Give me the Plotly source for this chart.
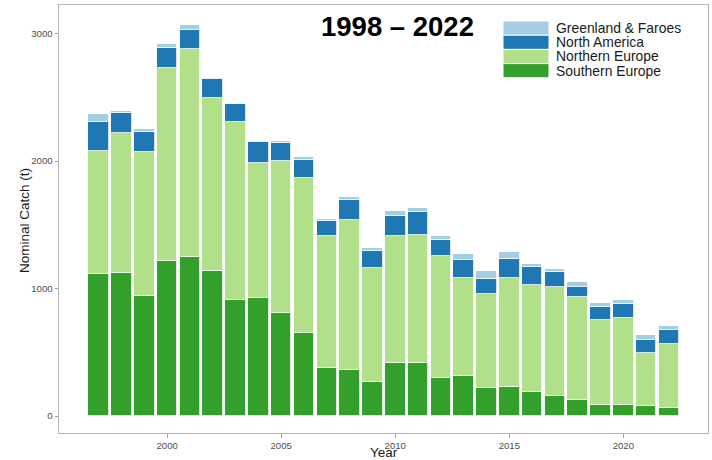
import plotly.graph_objects as go

# Nominal catch (t) by region, 1997-2022
years = list(range(1997, 2023))
southern_europe = [1116, 1122, 939, 1213, 1245, 1137, 912, 923, 810, 653, 374, 358, 267,
                   413, 413, 298, 314, 222, 226, 188, 157, 128, 86, 84, 78, 63]
northern_europe = [960, 1098, 1134, 1514, 1631, 1357, 1391, 1059, 1189, 1214, 1035, 1177, 896,
                   1001, 1007, 954, 767, 735, 856, 842, 857, 803, 669, 685, 416, 504]
north_america = [230, 159, 154, 159, 149, 152, 144, 165, 142, 141, 118, 161, 129,
                 157, 182, 131, 144, 120, 147, 141, 115, 78, 102, 107, 99, 105]
greenland_faroes = [60, 16, 21, 29, 44, 8, 11, 10, 14, 21, 21, 23, 23,
                    39, 27, 29, 46, 58, 57, 24, 26, 42, 32, 31, 42, 31]

series = [
    ("Southern Europe", southern_europe, "#33a02c"),
    ("Northern Europe", northern_europe, "#b2df8a"),
    ("North America", north_america, "#1f78b4"),
    ("Greenland & Faroes", greenland_faroes, "#a6cee3"),
]

fig = go.Figure()
for name, vals, col in series:
    fig.add_trace(go.Bar(
        x=years, y=vals, name=name, width=0.9,
        marker=dict(color=col, line=dict(color="white", width=0.8)),
        showlegend=False,
    ))

W, H = 712, 460
ml, mr, mt, mb = 59, 4, 5, 27
pw, ph = W - ml - mr, H - mt - mb

def px(x):
    return (x - ml) / pw

def py(y):
    return 1 - (y - mt) / ph

shapes = []
annotations = []

# legend keys drawn inside the panel, top right
legend_items = list(reversed(series))
row_h = 14.2
top = 21.0
for i, (name, vals, col) in enumerate(legend_items):
    y0 = top + i * row_h
    shapes.append(dict(type="rect", xref="paper", yref="paper",
                       x0=px(503), x1=px(549), y0=py(y0 + row_h), y1=py(y0),
                       fillcolor=col, line=dict(color="white", width=1)))
    annotations.append(dict(xref="paper", yref="paper", x=px(554), y=py(y0 + row_h / 2),
                            text=name, showarrow=False, xanchor="left", yanchor="middle",
                            font=dict(size=13.9, color="#1a1a1a", family="Liberation Sans")))

annotations.append(dict(xref="paper", yref="paper", x=px(397), y=py(27),
                        text="<b>1998 – 2022</b>", showarrow=False,
                        xanchor="center", yanchor="middle",
                        font=dict(size=27.5, color="black", family="Liberation Sans")))
annotations.append(dict(xref="paper", yref="paper", x=0.5, y=py(452.5),
                        text="Year", showarrow=False, xanchor="center", yanchor="middle",
                        font=dict(size=13.5, color="#1a1a1a", family="Liberation Sans")))
annotations.append(dict(xref="paper", yref="paper", x=px(25), y=py(221),
                        text="Nominal Catch (t)", showarrow=False, textangle=-90,
                        xanchor="center", yanchor="middle",
                        font=dict(size=13.5, color="#1a1a1a", family="Liberation Sans")))

fig.update_layout(
    width=W, height=H,
    margin=dict(l=ml, r=mr, t=mt, b=mb),
    barmode="stack", bargap=0,
    plot_bgcolor="white", paper_bgcolor="white",
    font=dict(family="Liberation Sans", color="#4d4d4d"),
    shapes=shapes, annotations=annotations,
)
fig.update_xaxes(range=[1995.26, 2023.71], tickmode="linear", tick0=2000, dtick=5,
                 showgrid=False, zeroline=False, showline=True, mirror=True,
                 linecolor="#b5b5b5", linewidth=1, ticks="outside", ticklen=3.5,
                 tickcolor="#a0a0a0", tickfont=dict(size=9.6, color="#4d4d4d"))
fig.update_yaxes(range=[-133.3, 3224], tickmode="linear", tick0=0, dtick=1000,
                 showgrid=False, zeroline=False, showline=True, mirror=True,
                 linecolor="#b5b5b5", linewidth=1, ticks="outside", ticklen=3.5,
                 tickcolor="#a0a0a0", tickfont=dict(size=9.6, color="#4d4d4d"))

fig.write_html("out.html")
